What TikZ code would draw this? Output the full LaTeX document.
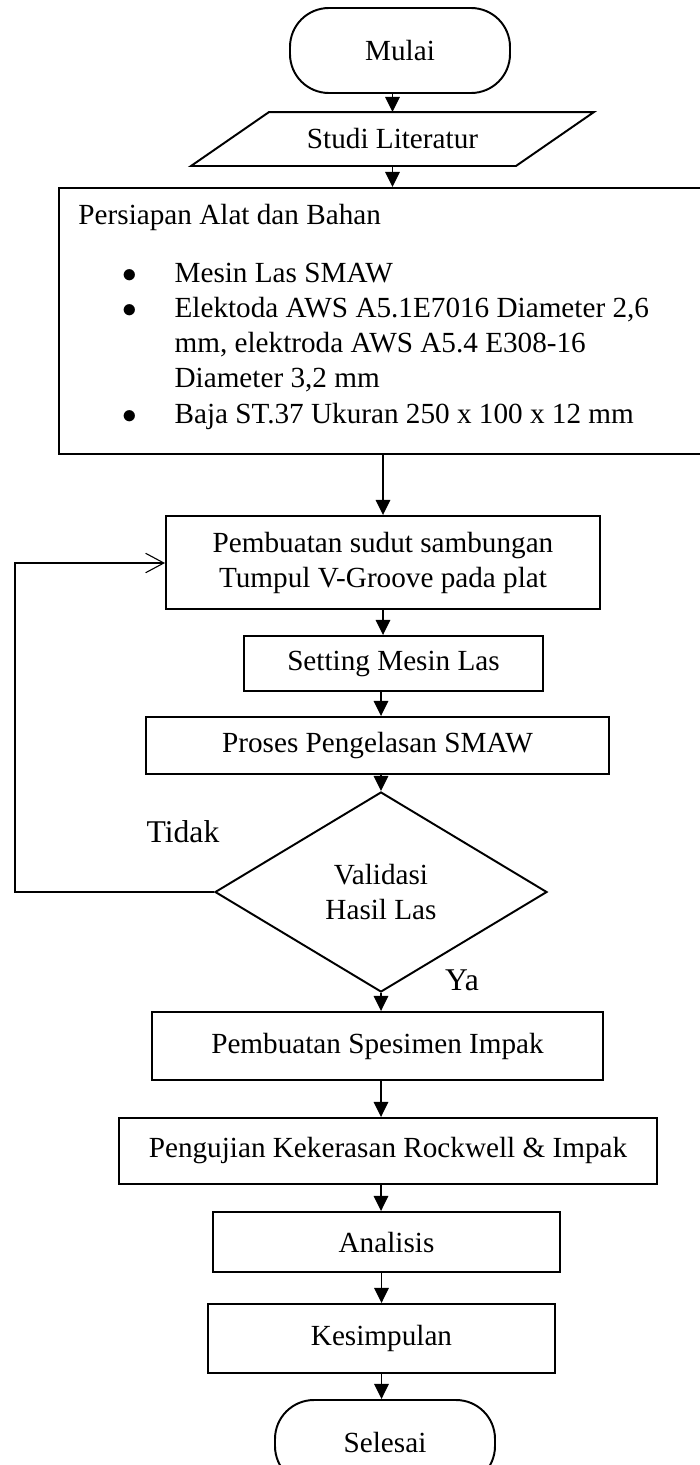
\documentclass[tikz,border=0pt]{standalone}
\usepackage{fontspec}
\setmainfont{Liberation Serif}
\usetikzlibrary{shapes.geometric,arrows.meta}

% one unit of the drawing
\newcommand{\pxu}{0.411pt}
% list bullet
\newcommand{\blt}{\makebox[39.5pt][l]{\hspace{18pt}$\bullet$}}

\tikzset{
  base/.style={draw, line width=0.8pt, align=center, inner sep=0pt, font=\fontsize{12}{14.4}\selectfont},
  proc/.style={base, rectangle},
  term/.style={base, rectangle, rounded corners=16pt, minimum width=220*\pxu, minimum height=85*\pxu},
  io/.style={base, draw=none, rectangle},
  decide/.style={base, diamond},
  flow/.style={-{Triangle[length=6.2pt,width=6pt]}, line width=0.6pt},
  back/.style={-{Straight Barb[length=7.5pt,width=8pt]}, line width=0.45pt},
  lbl/.style={inner sep=0pt, font=\fontsize{13}{15}\selectfont},
}

\begin{document}
\begin{tikzpicture}[x=\pxu, y=-\pxu]

\useasboundingbox (0,0) rectangle (700,1465);
\clip (0,0) rectangle (700,1465);

% Start and literature study
\node[term] (start) at (400,50.5) {Mulai};
\node[io, minimum width=401*\pxu, minimum height=52*\pxu] (lit) at (392.5,139) {Studi Literatur};
\draw[line width=0.8pt] ([xshift=78*\pxu]lit.north west) -- (lit.north east)
  -- ([xshift=-78*\pxu]lit.south east) -- (lit.south west) -- cycle;

% Tools and materials
\node[proc, anchor=north west, minimum width=700*\pxu, minimum height=266*\pxu] (prep) at (58,187) {};
\node[anchor=base west, inner sep=0pt, text width=600*\pxu, align=flush left,
      font=\fontsize{12}{14.4}\selectfont] (prepList) at (78,224)
  {Persiapan Alat dan Bahan\\[9.8pt]
   \blt Mesin Las SMAW\\
   \blt Elektoda AWS A5.1E7016 Diameter 2,6\\
   \hspace*{39.5pt}mm, elektroda AWS A5.4 E308-16\\
   \hspace*{39.5pt}Diameter 3,2 mm\\
   \blt Baja ST.37 Ukuran 250 x 100 x 12 mm};

% Welding steps
\node[proc, minimum width=434*\pxu, minimum height=93*\pxu] (groove) at (383,562.5) {Pembuatan sudut sambungan\\Tumpul V-Groove pada plat};
\node[proc, minimum width=299*\pxu, minimum height=55*\pxu] (machine) at (393.5,663.5) {Setting Mesin Las};
\node[proc, minimum width=463*\pxu, minimum height=57*\pxu] (weld) at (377.5,745.5) {Proses Pengelasan SMAW};
\node[decide, minimum width=332*\pxu, minimum height=200*\pxu] (check) at (381,892) {Validasi\\Hasil Las};

% Testing and end
\node[proc, minimum width=451*\pxu, minimum height=68*\pxu] (specimen) at (377.5,1046) {Pembuatan Spesimen Impak};
\node[proc, minimum width=538*\pxu, minimum height=66*\pxu] (test) at (388,1151) {Pengujian Kekerasan Rockwell \& Impak};
\node[proc, minimum width=347*\pxu, minimum height=60*\pxu] (analysis) at (386.5,1242) {Analisis};
\node[proc, minimum width=347*\pxu, minimum height=69*\pxu] (concl) at (381.5,1338.5) {Kesimpulan};
\node[term] (finish) at (385,1442.5) {Selesai};

% Decision labels
\node[lbl] (no) at (183,832) {Tidak};
\node[lbl] (yes) at (462,980) {Ya};

% Arrows
\draw[flow] (start.south -| lit) -- (lit);
\draw[flow] (lit) -- (lit |- prep.north);
\draw[flow] (prep.south -| groove) -- (groove);
\draw[flow] (groove) -- (groove |- machine.north);
\draw[flow] (machine.south -| check) -- (weld.north -| check);
\draw[flow] (weld.south -| check) -- (check);
\draw[flow] (check) -- (check |- specimen.north);
\draw[flow] (specimen.south -| check) -- (test.north -| check);
\draw[flow] (test.south -| check) -- (analysis.north -| check);
\draw[flow] (analysis.south -| concl) -- (concl);
\draw[flow] (concl) -- (concl |- finish.north);

% Back to the groove when the weld fails
\coordinate (loopTop) at (15,563);
\draw[back] (check.west) -| (loopTop) -- (loopTop -| groove.west);

\end{tikzpicture}
\end{document}
